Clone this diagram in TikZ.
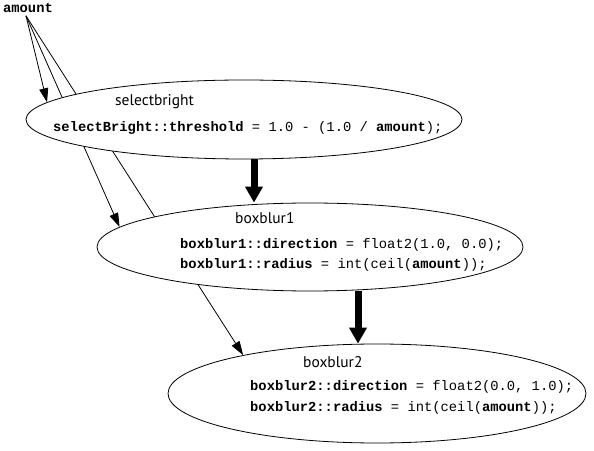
\documentclass[tikz,border=0pt]{standalone}
\usepackage{fontspec}
\setmonofont{Liberation Mono}
\newfontfamily\labelfont{PT Sans}
\usetikzlibrary{positioning,arrows.meta,shapes.geometric,backgrounds}
\newcommand{\pv}[1]{\textbf{#1}}

\begin{document}
\begin{tikzpicture}[x=1pt,y=1pt,
  stage/.style={draw=black,fill=white,ellipse,line width=0.8pt,inner sep=0pt},
  title/.style={font=\labelfont\fontsize{15.5}{18}\selectfont,anchor=west,inner sep=0pt},
  code/.style={font=\ttfamily\fontsize{13.8}{20.5}\selectfont,align=left,anchor=west,inner sep=0pt},
  feed/.style={-{Triangle[length=14pt,width=9pt]},line width=0.8pt},
  flow/.style={-{Triangle[length=16pt,width=17pt]},line width=7pt}]
\useasboundingbox (0,0) rectangle (594,450);
\node[code,anchor=center,inner sep=3pt] (amount) at (28,442) {\pv{amount}};
\coordinate (amount-tap) at ([xshift=-2pt]amount.south);
% the three stages
\node[stage,minimum width=436pt,minimum height=79pt] (selectbright) at (244,330.5) {};
\node[stage,minimum width=426pt,minimum height=88pt] (boxblur1) at (310,203) {};
\node[stage,minimum width=418pt,minimum height=99pt] (boxblur2) at (377,56.5) {};
\node[title] (selectbright-title) at (115,348) {selectbright};
\node[code] (selectbright-code) at (53,322)
  {\pv{selectBright::threshold} = 1.0 - (1.0 / \pv{amount});};
\node[title] (boxblur1-title) at (235,232) {boxblur1};
\node[code] (boxblur1-code) at (180,195)
  {\pv{boxblur1::direction} = float2(1.0, 0.0);\\
   \pv{boxblur1::radius} = int(ceil(\pv{amount}));};
\node[title] (boxblur2-title) at (303,88) {boxblur2};
\node[code] (boxblur2-code) at (250,52.5)
  {\pv{boxblur2::direction} = float2(0.0, 1.0);\\
   \pv{boxblur2::radius} = int(ceil(\pv{amount}));};
% parameter feeds, behind the stages
\begin{scope}[on background layer]
\draw[feed] (amount-tap) -- (selectbright.175);
\draw[feed] (amount-tap) -- (boxblur1.174.5);
\draw[feed] (amount-tap) -- (boxblur2.164);
\end{scope}
% image flow
\coordinate (selectbright-out) at ([xshift=10pt]selectbright.south);
\coordinate (boxblur1-out) at ([xshift=48pt]boxblur1.south);
\draw[flow] (selectbright-out) -- (selectbright-out |- boxblur1.north);
\draw[flow] (boxblur1-out) -- (boxblur1-out |- boxblur2.north);
\end{tikzpicture}
\end{document}
